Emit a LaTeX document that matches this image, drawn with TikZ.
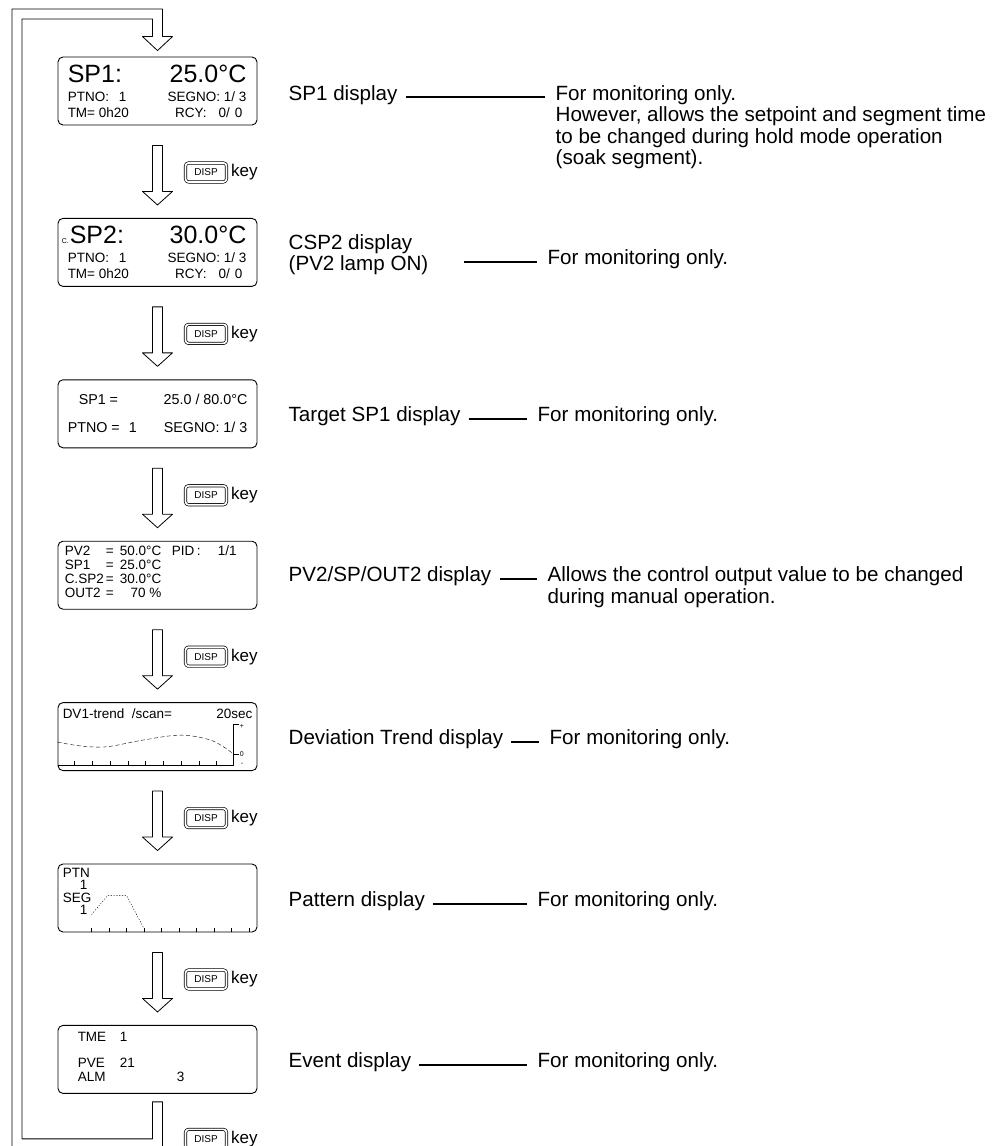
\documentclass[tikz,border=0pt]{standalone}
\usepackage{fontspec}
\setmainfont{Liberation Sans}
\usetikzlibrary{positioning,calc}

\begin{document}
\begin{tikzpicture}[x=1pt, y=-1pt, node distance=92.5pt, line join=round,
    disp/.style={rectangle, draw, rounded corners=5pt, minimum width=199pt, minimum height=68pt, line width=0.9pt},
    dkey/.style={rectangle, draw, double, double distance=1.7pt, line width=0.7pt, rounded corners=3pt, minimum width=41pt, minimum height=19pt, inner sep=0pt, font=\fontsize{10}{11}\selectfont},
    keyt/.style={inner sep=0pt, font=\fontsize{17}{18}\selectfont},
    blk/.style={draw, line width=0.8pt, fill=white},
    lead/.style={line width=1.8pt},
    lbl/.style={anchor=base west, inner sep=0pt, font=\fontsize{20.6}{21.5}\selectfont},
    note/.style={anchor=base west, inner sep=0pt, align=left, font=\fontsize{20.6}{21.5}\selectfont},
    big/.style={inner sep=0pt, font=\fontsize{25}{27}\selectfont},
    md/.style={inner sep=0pt, font=\fontsize{14.3}{15}\selectfont},
    sm/.style={inner sep=0pt, font=\fontsize{13.5}{14}\selectfont},
    tiny/.style={inner sep=0pt, font=\fontsize{7}{8}\selectfont},
    tl/.style={anchor=base west}, tr/.style={anchor=base east}]

\useasboundingbox (0,0) rectangle (999,1146);

% displays
\node[disp] (sp1) at (157.5,91) {};
\node[disp, below=of sp1] (csp2) {};
\node[disp, below=of csp2] (tsp1) {};
\node[disp, below=of tsp1] (pv2) {};
\node[disp, below=of pv2] (dvt) {};
\node[disp, below=of dvt] (ptn) {};
\node[disp, below=of ptn] (ev) {};

% SP1 display
\begin{scope}[shift={(sp1.north west)}]
  \node[big, tl] (sp1a) at (10,26) {SP1:};
  \node[big, tr] (sp1b) at (189,26) {25.0°C};
  \node[sm, tl] (sp1c) at (10,45) {PTNO:\hspace{10pt}1};
  \node[sm, tr] (sp1d) at (189,45) {SEGNO: 1/ 3};
  \node[sm, tl] (sp1e) at (10,61) {TM= 0h20};
  \node[sm, tr] (sp1f) at (185,61) {RCY:\hspace{12pt}0/\hspace{5pt}0};
\end{scope}

% CSP2 display
\begin{scope}[shift={(csp2.north west)}]
  \node[tiny, tl] (cs0) at (4,26) {C.};
  \node[big, tl] (csa) at (12,26) {SP2:};
  \node[big, tr] (csb) at (189,26) {30.0°C};
  \node[sm, tl] (csc) at (10,45) {PTNO:\hspace{10pt}1};
  \node[sm, tr] (csd) at (189,45) {SEGNO: 1/ 3};
  \node[sm, tl] (cse) at (10,61) {TM= 0h20};
  \node[sm, tr] (csf) at (185,61) {RCY:\hspace{12pt}0/\hspace{5pt}0};
\end{scope}

% target SP1
\begin{scope}[shift={(tsp1.north west)}]
  \node[md, tl] (tsa) at (21,25) {SP1 =};
  \node[md, tr] (tsb) at (190,25) {25.0 / 80.0°C};
  \node[md, tl] (tsc) at (10,53) {PTNO =\hspace{9pt}1};
  \node[md, tr] (tsd) at (190,53) {SEGNO: 1/ 3};
\end{scope}

% PV2/SP/OUT2
\begin{scope}[shift={(pv2.north west)}]
  \foreach \n/\v [count=\i] in {PV2/50.0°C, SP1/25.0°C, C.SP2/30.0°C, OUT2/70 \%}{
    \node[sm, tl] (pa\i) at (7,14.3*\i) {\n};
    \node[sm, tl] (pb\i) at (48,14.3*\i) {=};
    \node[sm, tr] (pc\i) at (104,14.3*\i) {\v};
  }
  \node[sm, tl] (pd) at (114,14.3) {PID};
  \node[sm, tl] (pe) at (139,14.3) {:};
  \node[sm, tl] (pf) at (160,14.3) {1/1};
\end{scope}

% deviation trend
\begin{scope}[shift={(dvt.north west)}]
  \node[sm, tl] (dva) at (5,16) {DV1-trend};
  \node[sm, tl] (dvb) at (74,16) {/scan=};
  \node[sm, tr] (dvc) at (195,16) {20sec};
  \draw (0,63) -- (176,63) -- (176,22) -- (181,22);
  \draw (176,52) -- (181,52);
  \foreach \k in {0,...,8} \draw (17+17.75*\k,63) -- ++(0,-4);
  \node[tiny, anchor=west] (dvp) at (182,24) {+};
  \node[tiny, anchor=west] (dv0) at (182,52) {0};
  \node[tiny, anchor=west] (dvm) at (183,62) {-};
  \draw[dash pattern=on 4pt off 2.5pt] plot[smooth, tension=0.6] coordinates {(0,40) (25,44) (50,44.5) (85,38) (122,33) (150,37) (165,44) (176,52)};
\end{scope}

% pattern
\begin{scope}[shift={(ptn.north west)}]
  \node[sm, tl] (pta) at (5,14) {PTN};
  \node[sm, tr] (ptb) at (30,26) {1};
  \node[sm, tl] (ptc) at (5,39) {SEG};
  \node[sm, tr] (ptd) at (30,51) {1};
  \draw[dash pattern=on 1.2pt off 1.6pt] (34,51) -- (50,32) -- (69,32) -- (87,66);
  \foreach \k in {0,...,9} \draw (34+17.5*\k,68) -- ++(0,-4);
\end{scope}

% event
\begin{scope}[shift={(ev.north west)}]
  \node[sm, tl] (eva) at (20,17) {TME};
  \node[sm, tl] (evb) at (62,17) {1};
  \node[sm, tl] (evc) at (20,43) {PVE};
  \node[sm, tl] (evd) at (62,43) {21};
  \node[sm, tl] (eve) at (20,57) {ALM};
  \node[sm, tl] (evf) at (119,57) {3};
\end{scope}

% DISP key arrows
\foreach \a/\b [count=\i] in {sp1/csp2, csp2/tsp1, tsp1/pv2, pv2/dvt, dvt/ptn, ptn/ev}{
  \draw[blk] ($(\a.south)+(-5,20)$) -- ++(0,46) -- ++(-10,0) -- ($(\b.north)+(0,-13)$)
    -- ($(\a.south)+(15,66)$) -- ++(-10,0) -- ++(0,-46) -- cycle;
  \node[dkey] (k\i) at ($(\a.south)+(48.5,47)$) {DISP};
  \node[keyt, right=4pt of k\i] (kt\i) {key};
}

% return loop
\coordinate (lo) at (12,9);
\coordinate (li) at (22,19);
\draw[blk] ($(ev.south)+(-5,8)$) -- ++(10,0) -- ++(0,47) -| (lo) -| ($(sp1.north)+(5,-20)$)
  -- ++(10,0) -- ($(sp1.north)+(0,-6)$) -- ($(sp1.north)+(-15,-20)$) -- ++(10,0)
  |- (li) |- ($(ev.south)+(-5,45)$) -- cycle;
\node[dkey] (k7) at ($(ev.south)+(48.5,45)$) {DISP};
\node[keyt, right=4pt of k7] (kt7) {key};

% descriptions
\node[lbl] (l1) at ($(sp1.east)+(31,9)$) {SP1 display};
\node[note] (n1) at ($(sp1.east)+(298,73.5)$) {For monitoring only.\\However, allows the setpoint and segment time\\to be changed during hold mode operation\\(soak segment).};
\draw[lead] ($(l1.mid east)+(8,0)$) -- ($(l1.mid east -| n1.west)+(-10,0)$);

\node[lbl, align=left] (l2) at ($(csp2.east)+(31,18.5)$) {CSP2 display\\(PV2 lamp ON)};
\node[note] (n2) at ($(csp2.east)+(290,12.5)$) {For monitoring only.};
\draw[lead] ($(l2.east |- n2.mid west)+(35,0)$) -- ($(n2.mid west)+(-10,0)$);

\node[lbl] (l3) at ($(tsp1.east)+(31,8)$) {Target SP1 display};
\node[note] (n3) at ($(tsp1.east)+(280,8)$) {For monitoring only.};
\draw[lead] ($(l3.mid east)+(8,0)$) -- ($(n3.mid west)+(-10,0)$);

\node[lbl] (l4) at ($(pv2.east)+(31,6.5)$) {PV2/SP/OUT2 display};
\node[note] (n4) at ($(pv2.east)+(290,28)$) {Allows the control output value to be changed\\during manual operation.};
\draw[lead] ($(l4.mid east)+(8,0)$) -- ($(l4.mid east -| n4.west)+(-10,0)$);

\node[lbl] (l5) at ($(dvt.east)+(31,8)$) {Deviation Trend display};
\node[note] (n5) at ($(dvt.east)+(292,8)$) {For monitoring only.};
\draw[lead] ($(l5.mid east)+(8,0)$) -- ($(n5.mid west)+(-10,0)$);

\node[lbl] (l6) at ($(ptn.east)+(31,8.5)$) {Pattern display};
\node[note] (n6) at ($(ptn.east)+(280,8.5)$) {For monitoring only.};
\draw[lead] ($(l6.mid east)+(8,0)$) -- ($(n6.mid west)+(-10,0)$);

\node[lbl] (l7) at ($(ev.east)+(31,8)$) {Event display};
\node[note] (n7) at ($(ev.east)+(280,8)$) {For monitoring only.};
\draw[lead] ($(l7.mid east)+(8,0)$) -- ($(n7.mid west)+(-10,0)$);
\end{tikzpicture}
\end{document}
